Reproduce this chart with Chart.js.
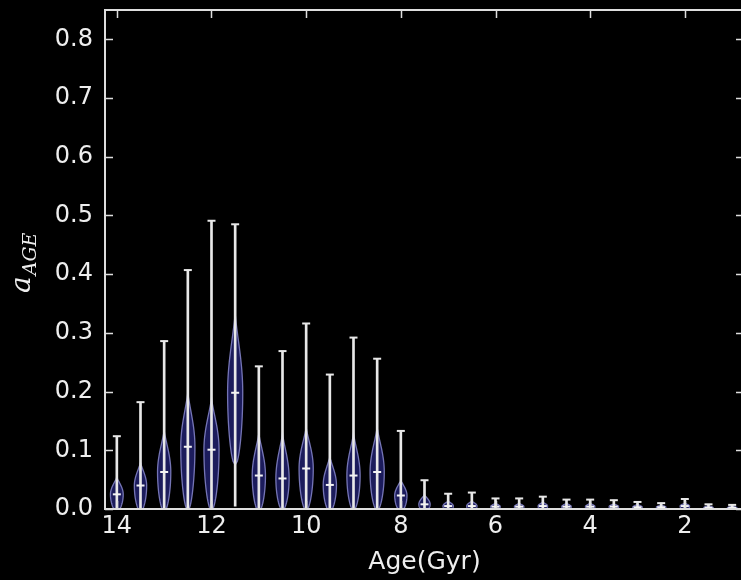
<!DOCTYPE html>
<html>
<head>
<meta charset="utf-8">
<script src="https://cdn.jsdelivr.net/npm/chart.js@4/dist/chart.umd.min.js"></script>
<style>
  html, body { margin: 0; padding: 0; background: #000; overflow: hidden; }
  #wrap { width: 741px; height: 580px; overflow: hidden; }
</style>
</head>
<body>
<div id="wrap"><canvas id="violins" width="750" height="580"></canvas></div>
<script>
// age bins (Gyr) and the a_AGE distribution summary for each bin
const ages = [14, 13.5, 13, 12.5, 12, 11.5, 11, 10.5, 10, 9.5, 9, 8.5, 8, 7.5, 7, 6.5, 6, 5.5, 5, 4.5, 4, 3.5, 3, 2.5, 2, 1.5, 1];
const minima = [0, 0, 0, 0, 0, 0.005, 0, 0, 0, 0, 0, 0, 0, 0, 0, 0, 0, 0, 0, 0, 0, 0, 0, 0, 0, 0, 0];
const maxima = [0.124, 0.182, 0.286, 0.407, 0.491, 0.485, 0.243, 0.269, 0.316, 0.229, 0.292, 0.256, 0.133, 0.049, 0.026, 0.028, 0.018, 0.018, 0.021, 0.016, 0.016, 0.015, 0.012, 0.010, 0.017, 0.008, 0.007];
const medians = [0.025, 0.040, 0.063, 0.106, 0.101, 0.198, 0.057, 0.052, 0.069, 0.041, 0.057, 0.063, 0.023, 0.008, 0.005, 0.005, 0.004, 0.004, 0.005, 0.004, 0.004, 0.004, 0.003, 0.003, 0.005, 0.002, 0.002];
// extent of the density body and its widest half-width (in Gyr)
const bodyLow = [-0.004, -0.004, -0.004, -0.002, -0.002, 0.075, -0.004, -0.002, -0.002, -0.004, -0.002, -0.002, -0.004, -0.004, -0.003, -0.003, -0.003, -0.003, -0.003, -0.003, -0.003, -0.003, -0.003, -0.003, -0.003, -0.003, -0.003];
const bodyHigh = [0.055, 0.080, 0.135, 0.200, 0.190, 0.335, 0.130, 0.130, 0.140, 0.090, 0.130, 0.140, 0.050, 0.025, 0.014, 0.014, 0.010, 0.010, 0.012, 0.010, 0.010, 0.009, 0.008, 0.007, 0.010, 0.006, 0.005];
const bodyWidth = [0.135, 0.13, 0.14, 0.15, 0.16, 0.16, 0.14, 0.14, 0.15, 0.14, 0.14, 0.15, 0.13, 0.12, 0.11, 0.11, 0.10, 0.10, 0.10, 0.10, 0.10, 0.10, 0.10, 0.10, 0.10, 0.10, 0.10];

const xTicks = [14, 12, 10, 8, 6, 4, 2];
const yTicks = [0, 0.1, 0.2, 0.3, 0.4, 0.5, 0.6, 0.7, 0.8];

const axisColor = '#dedede';
const textColor = '#eeeeee';

const violinBodies = {
  id: 'violinBodies',
  beforeDatasetsDraw(chart) {
    const { ctx, chartArea, scales: { x, y } } = chart;
    ctx.save();
    ctx.beginPath();
    ctx.rect(chartArea.left, chartArea.top, chartArea.right - chartArea.left, chartArea.bottom - chartArea.top);
    ctx.clip();
    ages.forEach((age, i) => {
      const lo = bodyLow[i], hi = bodyHigh[i], med = medians[i], w = bodyWidth[i];
      const n = 40;
      const side = [];
      for (let k = 0; k <= n; k++) {
        const v = lo + (hi - lo) * k / n;
        let f;
        if (v <= med) f = Math.pow(Math.sin(Math.PI / 2 * (v - lo) / Math.max(med - lo, 1e-6)), 0.5);
        else f = Math.pow(Math.cos(Math.PI / 2 * (v - med) / Math.max(hi - med, 1e-6)), 1.3);
        side.push([v, w * f]);
      }
      ctx.beginPath();
      side.forEach(([v, hw], k) => {
        const px = x.getPixelForValue(age - hw), py = y.getPixelForValue(v);
        if (k === 0) ctx.moveTo(px, py); else ctx.lineTo(px, py);
      });
      for (let k = side.length - 1; k >= 0; k--) {
        const [v, hw] = side[k];
        ctx.lineTo(x.getPixelForValue(age + hw), y.getPixelForValue(v));
      }
      ctx.closePath();
      ctx.fillStyle = 'rgba(30, 30, 100, 0.92)';
      ctx.fill();
      ctx.lineWidth = 1.3;
      ctx.strokeStyle = 'rgba(135, 135, 205, 0.85)';
      ctx.stroke();
    });
    ctx.restore();
  }
};

const frame = {
  id: 'frame',
  afterDatasetsDraw(chart) {
    const { ctx, chartArea: a, scales: { x, y } } = chart;
    ctx.save();
    ctx.strokeStyle = axisColor;
    ctx.lineWidth = 1.5;
    ctx.beginPath();
    xTicks.forEach(t => {
      const px = Math.round(x.getPixelForValue(t)) + 0.5;
      ctx.moveTo(px, a.bottom); ctx.lineTo(px, a.bottom - 8);
      ctx.moveTo(px, a.top); ctx.lineTo(px, a.top + 8);
    });
    yTicks.forEach(t => {
      const py = Math.round(y.getPixelForValue(t)) + 0.5;
      ctx.moveTo(a.left, py); ctx.lineTo(a.left + 8, py);
      ctx.moveTo(a.right, py); ctx.lineTo(a.right - 8, py);
    });
    ctx.stroke();
    ctx.lineWidth = 2;
    ctx.strokeRect(a.left, a.top, a.right - a.left, a.bottom - a.top);

    // axis titles
    ctx.fillStyle = textColor;
    ctx.textAlign = 'center';
    ctx.textBaseline = 'alphabetic';
    ctx.font = '25px "DejaVu Sans"';
    ctx.fillText('Age(Gyr)', (a.left + a.right) / 2, 569);

    ctx.translate(30, 293);
    ctx.rotate(-Math.PI / 2);
    ctx.textAlign = 'left';
    ctx.font = 'italic 28px "DejaVu Serif"';
    ctx.fillText('a', 0, 0);
    const w = ctx.measureText('a').width;
    ctx.font = 'italic 19px "DejaVu Serif"';
    ctx.fillText('AGE', w + 1, 6);
    ctx.restore();
  }
};

new Chart(document.getElementById('violins'), {
  type: 'scatter',
  data: {
    datasets: [
      {
        type: 'bar',
        label: 'range',
        data: ages.map((a, i) => ({ x: a, y: [minima[i], maxima[i]] })),
        backgroundColor: '#e8e8e8',
        borderWidth: 0,
        barThickness: 2,
        order: 3
      },
      {
        label: 'max',
        data: ages.map((a, i) => ({ x: a, y: maxima[i] })),
        pointStyle: 'line',
        radius: 4,
        borderColor: '#e8e8e8',
        borderWidth: 2,
        order: 2
      },
      {
        label: 'median',
        data: ages.map((a, i) => ({ x: a, y: medians[i] })),
        pointStyle: 'line',
        radius: 4,
        borderColor: '#f4f4f4',
        borderWidth: 2,
        order: 1
      }
    ]
  },
  options: {
    responsive: false,
    animation: false,
    layout: { padding: { top: 10, right: 0, left: 0, bottom: 0 } },
    plugins: { legend: { display: false }, tooltip: { enabled: false } },
    scales: {
      x: {
        type: 'linear',
        reverse: true,
        min: 0.75,
        max: 14.25,
        offset: false,
        grid: { display: false, drawTicks: false },
        border: { display: false },
        afterBuildTicks: s => { s.ticks = xTicks.map(v => ({ value: v })); },
        afterFit: s => { s.height = 71; s.paddingLeft = 0; s.paddingRight = 0; },
        ticks: {
          color: textColor,
          font: { family: 'DejaVu Sans', size: 24 },
          padding: 3,
          maxRotation: 0,
          callback: v => String(v)
        }
      },
      y: {
        min: 0,
        max: 0.85,
        grid: { display: false, drawTicks: false },
        border: { display: false },
        afterBuildTicks: s => { s.ticks = yTicks.map(v => ({ value: v })); },
        afterFit: s => { s.width = 105; s.paddingTop = 0; s.paddingBottom = 0; },
        ticks: {
          color: textColor,
          font: { family: 'DejaVu Sans', size: 24 },
          padding: 12,
          callback: v => v.toFixed(1)
        }
      }
    }
  },
  plugins: [violinBodies, frame]
});
</script>
</body>
</html>
